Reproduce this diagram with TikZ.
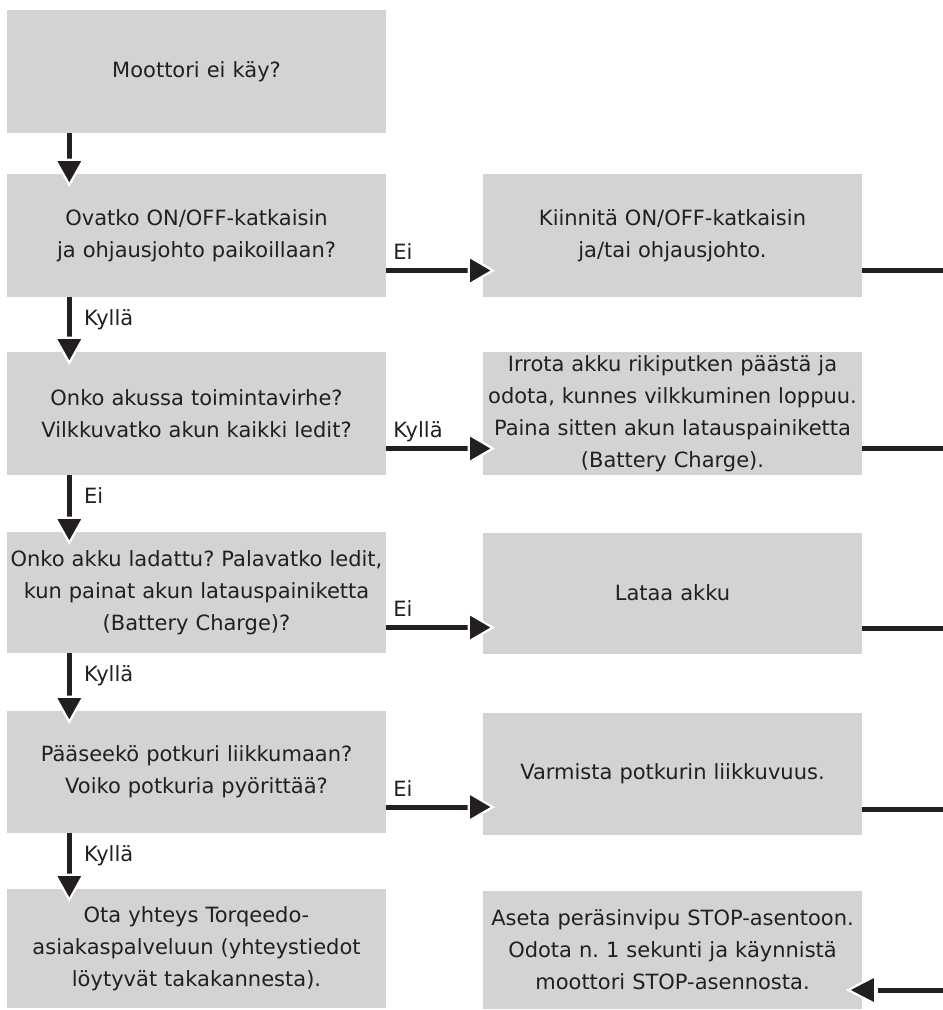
\documentclass[tikz,border=0pt]{standalone}
\usepackage{fontspec}
\setmainfont{DejaVu Sans}
\usetikzlibrary{calc}
\definecolor{boxgray}{HTML}{D1D3D4}
\definecolor{ink}{HTML}{231F20}
\frenchspacing
\begin{document}
\begin{tikzpicture}[x=1pt,y=-1pt,
  box/.style={fill=boxgray, draw=none, minimum width=379pt, inner sep=0pt,
    text width=379pt, align=center, text=ink, font=\frenchspacing\fontsize{21pt}{32pt}\selectfont},
  shaft/.style={draw=ink, line width=5pt, shorten >=18pt},
  plainline/.style={draw=ink, line width=5pt},
  headstyle/.style={fill=ink, draw=white, line width=2.2pt, line join=miter},
  headdown/.pic={\filldraw[headstyle] (0,0) -- (-14,-25) -- (14,-25) -- cycle;},
  headright/.pic={\filldraw[headstyle] (0,0) -- (-24,-14) -- (-24,14) -- cycle;},
  headleft/.pic={\filldraw[headstyle] (0,0) -- (27,-14) -- (27,14) -- cycle;},
  lab/.style={anchor=base west, inner sep=0pt, text=ink, font=\fontsize{21pt}{32pt}\selectfont}]
\useasboundingbox (0,0) rectangle (943,1010);
\fill[white] (0,0) rectangle (943,1010);

% left column
\node[box, minimum height=123pt] (l1) at (196.5,71.5) {Moottori ei käy?};
\node[box, minimum height=123pt] (l2) at (196.5,235.5) {Ovatko ON/OFF-katkaisin\\ja ohjausjohto paikoillaan?};
\node[box, minimum height=123pt] (l3) at (196.5,413.5) {Onko akussa toimintavirhe?\\Vilkkuvatko akun kaikki ledit?};
\node[box, minimum height=121pt] (l4) at (196.5,592.5) {Onko akku ladattu? Palavatko ledit,\\kun painat akun latauspainiketta\\(Battery Charge)?};
\node[box, minimum height=122pt] (l5) at (196.5,772) {Pääseekö potkuri liikkumaan?\\Voiko potkuria pyörittää?};
\node[box, minimum height=119pt] (l6) at (196.5,948.5) {Ota yhteys Torqeedo-\\asiakaspalveluun (yhteystiedot\\löytyvät takakannesta).};

% right column
\node[box, minimum height=123pt] (r2) at (672.5,235.5) {Kiinnitä ON/OFF-katkaisin\\ja/tai ohjausjohto.};
\node[box, minimum height=123pt] (r3) at (672.5,413.5) {Irrota akku rikiputken päästä ja\\odota, kunnes vilkkuminen loppuu.\\Paina sitten akun latauspainiketta\\(Battery Charge).};
\node[box, minimum height=121pt] (r4) at (672.5,593) {Lataa akku};
\node[box, minimum height=122pt] (r5) at (672.5,774) {Varmista potkurin liikkuvuus.};
\node[box, minimum height=118pt] (r6) at (672.5,950) {Aseta peräsinvipu STOP-asentoon.\\Odota n. 1 sekunti ja käynnistä\\moottori STOP-asennosta.};

% vertical connectors
\foreach \a/\b in {l1/l2, l2/l3, l3/l4, l4/l5, l5/l6} {
  \path ([xshift=62.5pt,yshift=-11pt]\b.north west) coordinate (t-\b);
  \draw[shaft] ([xshift=62.5pt]\a.south west) -- (t-\b);
  \path (t-\b) pic {headdown};
}

\node[lab] (k2) at ([xshift=77pt,yshift=-28pt]l2.south west) {Kyllä};
\node[lab] (k3) at ([xshift=77pt,yshift=-28pt]l3.south west) {Ei};
\node[lab] (k4) at ([xshift=77pt,yshift=-28pt]l4.south west) {Kyllä};
\node[lab] (k5) at ([xshift=77pt,yshift=-28pt]l5.south west) {Kyllä};

% horizontal connectors
\foreach \a/\b in {l2/r2, l3/r3, l4/r4, l5/r5} {
  \path ([yshift=-35pt]\a.east) coordinate (s-\a);
  \path ([xshift=10pt]s-\a -| \b.west) coordinate (t-\b);
  \draw[shaft] (s-\a) -- (t-\b);
  \path (t-\b) pic {headright};
}

\node[lab] (h2) at ([xshift=7pt,yshift=-24pt]l2.east) {Ei};
\node[lab] (h3) at ([xshift=7pt,yshift=-24pt]l3.east) {Kyllä};
\node[lab] (h4) at ([xshift=7pt,yshift=-24pt]l4.east) {Ei};
\node[lab] (h5) at ([xshift=7pt,yshift=-24pt]l5.east) {Ei};

% lines to right edge
\coordinate (edge) at (943,0);
\foreach \r in {r2, r3, r4, r5} {
  \path ([yshift=-35pt]\r.east) coordinate (s-\r);
  \coordinate (e-\r) at (s-\r -| edge);
  \draw[plainline] (s-\r) -- (e-\r);
}

% return arrow into last box
\coordinate (e6) at (943,990);
\path ([xshift=-14pt] e6 -| r6.east) coordinate (t6);
\draw[plainline] (e6) -- ([xshift=30pt]t6);
\path (t6) pic {headleft};
\end{tikzpicture}
\end{document}
